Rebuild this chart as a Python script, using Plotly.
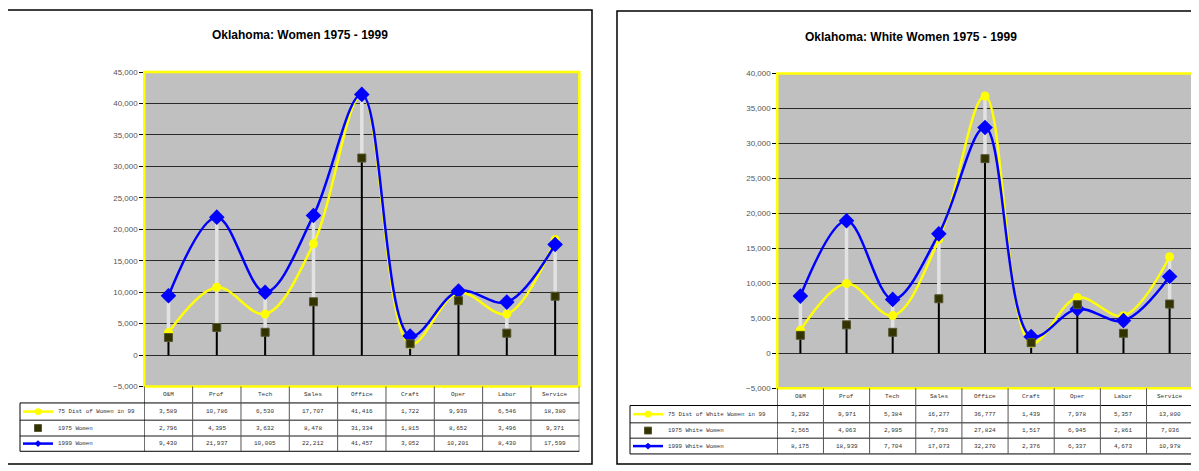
import plotly.graph_objects as go

categories = ["O&M", "Prof", "Tech", "Sales", "Office", "Craft", "Oper", "Labor", "Service"]

# Chart 1: Oklahoma Women
women_dist75 = [3589, 10786, 6530, 17707, 41416, 1722, 9939, 6546, 18380]
women_1975 = [2796, 4395, 3632, 8478, 31334, 1815, 8652, 3496, 9371]
women_1999 = [9430, 21937, 10005, 22212, 41457, 3052, 10201, 8430, 17599]
women_names = ["75 Dist of Women in 99", "1975 Women", "1999 Women"]

# Chart 2: Oklahoma White Women
white_dist75 = [3292, 9971, 5384, 16277, 36777, 1439, 7978, 5357, 13800]
white_1975 = [2565, 4063, 2995, 7793, 27824, 1517, 6945, 2861, 7036]
white_1999 = [8175, 18939, 7704, 17073, 32270, 2376, 6337, 4673, 10978]
white_names = ["75 Dist of White Women in 99", "1975 White Women", "1999 White Women"]

# the page body has an 8px margin; lay the figure out in window pixels
OFF = 8
W, H = 1199 - OFF, 471 - OFF


def fx(x):
    return (x - OFF) / W


def fy(y):
    return 1 - (y - OFF) / H


YELLOW = "#ffff00"
BLUE = "#0000ff"
OLIVE = "#333300"
TABLE_FONT = dict(family="Liberation Mono", size=6, color="#333333")
LEG_FONT = dict(family="Liberation Mono", size=5.8, color="#333333")

fig = go.Figure()
shapes = []
annotations = []

charts = [
    dict(
        suffix="", title="Oklahoma: Women 1975 - 1999",
        dist=women_dist75, y75=women_1975, y99=women_1999, names=women_names,
        frame=(7, 6, 592, 469), title_xy=(300, 31),
        plot=(144.3, 69.3, 579.3, 390.0), yrange=[-5000, 45000],
        rows=[390.0, 406.7, 424.3, 440.3, 456.0], legend_x=20,
    ),
    dict(
        suffix="2", title="Oklahoma: White Women 1975 - 1999",
        dist=white_dist75, y75=white_1975, y99=white_1999, names=white_names,
        frame=(617, 7, 1215, 469), title_xy=(911, 33),
        plot=(777.3, 70.7, 1192.7, 391.7), yrange=[-5000, 40000],
        rows=[391.7, 409.3, 427.0, 442.7, 458.7], legend_x=630,
    ),
]

layout_axes = {}
for c in charts:
    s = c["suffix"]
    xa, ya = "x" + s, "y" + s
    x0p, y0p, x1p, y1p = c["plot"]

    # outer chart frame
    fx0, fy0, fx1, fy1 = c["frame"]
    shapes.append(dict(type="rect", xref="paper", yref="paper",
                       x0=fx(fx0), x1=fx(fx1), y0=fy(fy1), y1=fy(fy0),
                       line=dict(color="black", width=1.5), layer="below"))

    lows = [min(a, b, d) for a, b, d in zip(c["dist"], c["y75"], c["y99"])]
    highs = [max(a, b, d) for a, b, d in zip(c["dist"], c["y75"], c["y99"])]

    # drop lines from the axis to the lowest value
    dx, dy = [], []
    for cat, lo in zip(categories, lows):
        dx += [cat, cat, None]
        dy += [0, lo, None]
    fig.add_trace(go.Scatter(x=dx, y=dy, mode="lines", xaxis=xa, yaxis=ya,
                             line=dict(color="black", width=2), showlegend=False, hoverinfo="skip"))
    # high-low lines
    hx, hy = [], []
    for cat, lo, hi in zip(categories, lows, highs):
        hx += [cat, cat, None]
        hy += [lo, hi, None]
    fig.add_trace(go.Scatter(x=hx, y=hy, mode="lines", xaxis=xa, yaxis=ya,
                             line=dict(color="#e2e2e2", width=3.5), showlegend=False, hoverinfo="skip"))

    fig.add_trace(go.Scatter(x=categories, y=c["dist"], name=c["names"][0], mode="lines+markers",
                             xaxis=xa, yaxis=ya, line=dict(color=YELLOW, width=2.5, shape="spline", smoothing=1),
                             marker=dict(symbol="circle", size=9, color=YELLOW), showlegend=False))
    fig.add_trace(go.Scatter(x=categories, y=c["y99"], name=c["names"][2], mode="lines+markers",
                             xaxis=xa, yaxis=ya, line=dict(color=BLUE, width=2.5, shape="spline", smoothing=1),
                             marker=dict(symbol="diamond", size=12, color=BLUE), showlegend=False))
    fig.add_trace(go.Scatter(x=categories, y=c["y75"], name=c["names"][1], mode="markers",
                             xaxis=xa, yaxis=ya,
                             marker=dict(symbol="square", size=8, color=OLIVE, line=dict(color="#555533", width=1)),
                             showlegend=False))

    layout_axes["xaxis" + s] = dict(domain=[fx(x0p), min(fx(x1p), 1)], range=[-0.5, 8.5], anchor=ya,
                                    showticklabels=False, showgrid=False, zeroline=False,
                                    showline=False, ticks="", categoryorder="array",
                                    categoryarray=categories, fixedrange=True)
    layout_axes["yaxis" + s] = dict(domain=[fy(y1p), fy(y0p)], range=c["yrange"], anchor=xa,
                                    dtick=5000, tickformat=",", ticks="outside", ticklen=4,
                                    tickcolor="black", tickwidth=1,
                                    tickfont=dict(family="Liberation Sans", size=8, color="#555555"),
                                    showgrid=True, gridcolor="#2a2a2a", gridwidth=1,
                                    zeroline=True, zerolinecolor="#2a2a2a", zerolinewidth=1,
                                    showline=False, fixedrange=True)

    # yellow plot border
    shapes.append(dict(type="rect", xref=xa + " domain", yref=ya + " domain",
                       x0=0, x1=1, y0=0, y1=1, line=dict(color=YELLOW, width=2.5)))

    # title
    annotations.append(dict(text="<b>" + c["title"] + "</b>", xref="paper", yref="paper",
                            x=fx(c["title_xy"][0]), y=fy(c["title_xy"][1]), showarrow=False,
                            font=dict(family="Liberation Sans", size=12, color="black"),
                            xanchor="center", yanchor="middle"))

    rows = c["rows"]
    lx = c["legend_x"]
    # table horizontal lines
    for k, yy in enumerate(rows[1:]):
        col = "black" if k in (0, 3) else "#666666"
        wdt = 1 if k in (0, 3) else 1.5
        shapes.append(dict(type="line", xref="paper", yref="paper",
                           x0=fx(lx), x1=fx(x1p), y0=fy(yy), y1=fy(yy),
                           line=dict(color=col, width=wdt)))
    # legend column left border
    shapes.append(dict(type="line", xref="paper", yref="paper",
                       x0=fx(lx), x1=fx(lx), y0=fy(rows[1]), y1=fy(rows[4]),
                       line=dict(color="black", width=1)))
    # table vertical lines
    for i in range(len(categories) + 1):
        edge = i in (0, len(categories))
        shapes.append(dict(type="line", xref=xa, yref="paper",
                           x0=i - 0.5, x1=i - 0.5, y0=fy(rows[4]), y1=fy(rows[0]),
                           line=dict(color="black" if edge else "#555555", width=1)))

    # category labels
    for cat in categories:
        annotations.append(dict(text=cat, xref=xa, yref="paper", x=cat,
                                y=fy((rows[0] + rows[1]) / 2), showarrow=False,
                                font=TABLE_FONT, xanchor="center", yanchor="middle"))
    # values
    for r, series in enumerate([c["dist"], c["y75"], c["y99"]]):
        ymid = fy((rows[r + 1] + rows[r + 2]) / 2)
        for cat, v in zip(categories, series):
            annotations.append(dict(text=f"{v:,}", xref=xa, yref="paper", x=cat, y=ymid,
                                    showarrow=False, font=TABLE_FONT,
                                    xanchor="center", yanchor="middle"))
        # legend text
        annotations.append(dict(text=c["names"][r], xref="paper", yref="paper",
                                x=fx(lx + 36), y=ymid, showarrow=False, font=LEG_FONT,
                                xanchor="left", yanchor="middle"))

    # legend keys
    ym1 = (rows[1] + rows[2]) / 2
    ym2 = (rows[2] + rows[3]) / 2
    ym3 = (rows[3] + rows[4]) / 2
    kx0, kx1 = lx + 3, lx + 33
    kc = (kx0 + kx1) / 2
    shapes.append(dict(type="line", xref="paper", yref="paper", x0=fx(kx0), x1=fx(kx1),
                       y0=fy(ym1), y1=fy(ym1), line=dict(color=YELLOW, width=2.5)))
    shapes.append(dict(type="circle", xref="paper", yref="paper", x0=fx(kc - 3.5), x1=fx(kc + 3.5),
                       y0=fy(ym1 + 3.5), y1=fy(ym1 - 3.5), fillcolor=YELLOW, line=dict(color=YELLOW, width=0)))
    shapes.append(dict(type="rect", xref="paper", yref="paper", x0=fx(kc - 3.5), x1=fx(kc + 3.5),
                       y0=fy(ym2 + 3.5), y1=fy(ym2 - 3.5), fillcolor=OLIVE, line=dict(color="#555533", width=1)))
    shapes.append(dict(type="line", xref="paper", yref="paper", x0=fx(kx0), x1=fx(kx1),
                       y0=fy(ym3), y1=fy(ym3), line=dict(color=BLUE, width=2.5)))
    dpath = "M {} {} L {} {} L {} {} L {} {} Z".format(
        fx(kc - 3.5), fy(ym3), fx(kc), fy(ym3 - 3.5), fx(kc + 3.5), fy(ym3), fx(kc), fy(ym3 + 3.5))
    shapes.append(dict(type="path", xref="paper", yref="paper", path=dpath,
                       fillcolor=BLUE, line=dict(color=BLUE, width=0)))

fig.update_layout(
    width=W, height=H, margin=dict(l=0, r=0, t=0, b=0),
    paper_bgcolor="white", plot_bgcolor="#c0c0c0",
    showlegend=False, shapes=shapes, annotations=annotations,
    **layout_axes,
)

fig.write_html("out.html")
